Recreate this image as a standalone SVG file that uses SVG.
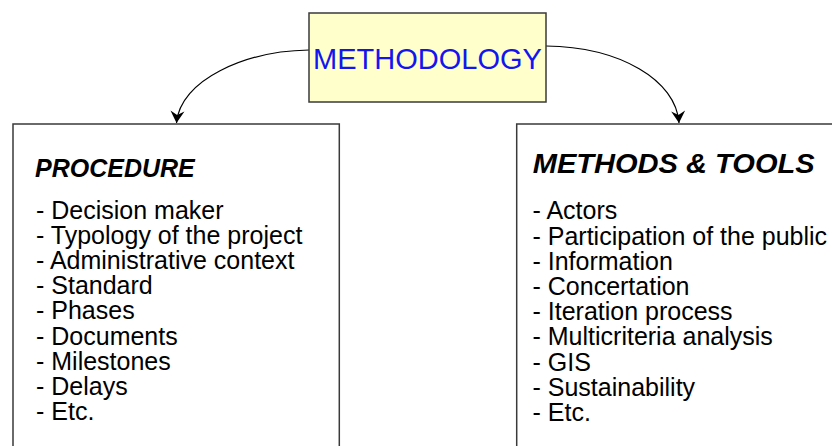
<svg xmlns="http://www.w3.org/2000/svg" width="832" height="446" viewBox="0 0 832 446">
<style>
.box{fill:#ffffff;stroke:#3a3a3a;stroke-width:1.5}
.top{fill:#ffffcc;stroke:#3a3a3a;stroke-width:1.5}
.t{font-family:"Liberation Sans",Arial,sans-serif;font-size:25px;fill:#000}
.h{font-family:"Liberation Sans",Arial,sans-serif;font-weight:bold;font-style:italic;fill:#000}
.c{fill:none;stroke:#000;stroke-width:1.2}
</style>
<defs>
<marker id="arr" markerUnits="userSpaceOnUse" markerWidth="16" markerHeight="16" viewBox="-1 -8 15 16" refX="12" refY="0" orient="auto">
<path d="M0,-7 L12,0 L0,7 L4,0 z" fill="#000"/>
</marker>
</defs>
<rect width="832" height="446" fill="#ffffff"/>
<g id="connectors">
<path class="c" d="M309,50 C245,51 180,80 176.5,123" marker-end="url(#arr)"/>
<path class="c" d="M546,46 C620,47 676,80 679,123" marker-end="url(#arr)"/>
</g>
<g id="methodology">
<rect class="top" x="309" y="13" width="237" height="89"/>
<text x="427.5" y="69.3" text-anchor="middle" font-family="Liberation Sans, Arial, sans-serif" font-size="29" fill="#1414f0">METHODOLOGY</text>
</g>
<g id="procedure">
<rect class="box" x="13" y="124" width="326.3" height="340"/>
<text class="h" x="35" y="176.7" font-size="25">PROCEDURE</text>
<text class="t" x="36" y="218.5">- Decision maker</text>
<text class="t" x="36" y="243.7">- Typology of the project</text>
<text class="t" x="36" y="268.9">- Administrative context</text>
<text class="t" x="36" y="294.1">- Standard</text>
<text class="t" x="36" y="319.3">- Phases</text>
<text class="t" x="36" y="344.5">- Documents</text>
<text class="t" x="36" y="369.7">- Milestones</text>
<text class="t" x="36" y="394.9">- Delays</text>
<text class="t" x="36" y="420.1">- Etc.</text>
</g>
<g id="methods-tools">
<rect class="box" x="516.7" y="124" width="340" height="340"/>
<text class="h" x="532.7" y="173.3" font-size="28" textLength="282" lengthAdjust="spacingAndGlyphs">METHODS &amp; TOOLS</text>
<text class="t" x="532.5" y="219.3">- Actors</text>
<text class="t" x="532.5" y="244.5">- Participation of the public</text>
<text class="t" x="532.5" y="269.7">- Information</text>
<text class="t" x="532.5" y="294.9">- Concertation</text>
<text class="t" x="532.5" y="320.1">- Iteration process</text>
<text class="t" x="532.5" y="345.3">- Multicriteria analysis</text>
<text class="t" x="532.5" y="370.5">- GIS</text>
<text class="t" x="532.5" y="395.7">- Sustainability</text>
<text class="t" x="532.5" y="420.9">- Etc.</text>
</g>
</svg>
